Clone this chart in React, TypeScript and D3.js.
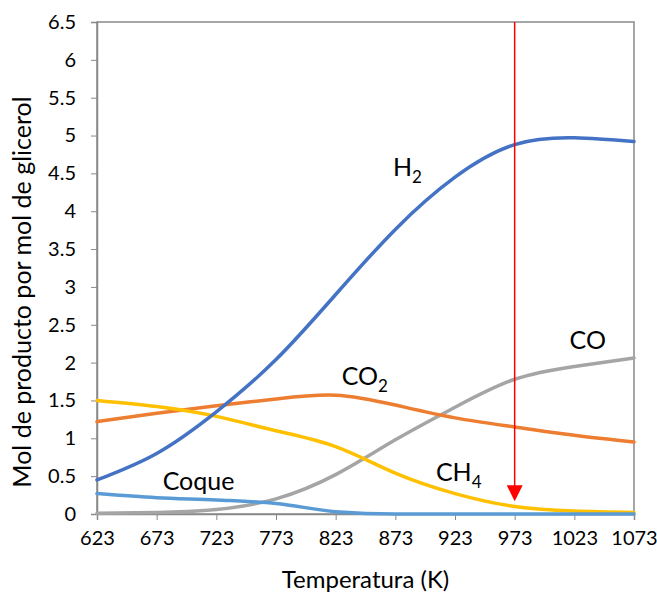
import React, { useRef, useEffect } from 'react';
import * as d3 from 'd3';

const temps = [623, 673, 723, 773, 823, 873, 923, 973, 1023, 1073];
const h2 = [0.45, 0.8, 1.35, 2.04, 2.9, 3.76, 4.45, 4.88, 4.97, 4.92];
const co2 = [1.22, 1.33, 1.43, 1.52, 1.57, 1.44, 1.27, 1.15, 1.04, 0.95];
const co = [0.01, 0.02, 0.06, 0.2, 0.52, 0.98, 1.41, 1.78, 1.95, 2.06];
const ch4 = [1.5, 1.42, 1.29, 1.1, 0.89, 0.54, 0.27, 0.1, 0.04, 0.02];
const coque = [0.27, 0.215, 0.185, 0.14, 0.03, 0, 0, 0, 0, 0];
const yTicks = [0, 0.5, 1, 1.5, 2, 2.5, 3, 3.5, 4, 4.5, 5, 5.5, 6, 6.5];
const markerTemp = 973;
const markerTip = 0.17;

const series = [
  { name: 'CO', values: co, color: '#A5A5A5' },
  { name: 'CO2', values: co2, color: '#ED7D31' },
  { name: 'CH4', values: ch4, color: '#FFC000' },
  { name: 'H2', values: h2, color: '#4472C4' },
  { name: 'Coque', values: coque, color: '#5B9BD5' },
];

// label positions in data units
const labels = [
  { main: 'H', sub: '2', t: 871, v: 4.47 },
  { main: 'CO', sub: '2', t: 828, v: 1.7 },
  { main: 'CO', sub: '', t: 1019, v: 2.18 },
  { main: 'CH', sub: '4', t: 907, v: 0.44 },
  { main: 'Coque', sub: '', t: 678, v: 0.32 },
];

const App = () => {
  const svgRef = useRef<SVGSVGElement>(null);

  useEffect(() => {
    const width = 657;
    const height = 595;
    const margin = { top: 22, right: 23, bottom: 81, left: 97 };
    const innerWidth = width - margin.left - margin.right;
    const innerHeight = height - margin.top - margin.bottom;
    const font = 'Lato, "Open Sans", sans-serif';

    const svg = d3.select(svgRef.current);
    svg.selectAll('*').remove();

    const x = d3.scaleLinear().domain([623, 1073]).range([0, innerWidth]);
    const y = d3.scaleLinear().domain([0, 6.5]).range([innerHeight, 0]);

    const g = svg.append('g').attr('transform', `translate(${margin.left},${margin.top})`);

    // plot border
    g.append('rect')
      .attr('width', innerWidth)
      .attr('height', innerHeight)
      .attr('fill', 'none')
      .attr('stroke', '#898989')
      .attr('stroke-width', 1.5);

    // y axis
    const yAxis = g.append('g')
      .call(d3.axisLeft(y).tickValues(yTicks).tickFormat(d3.format('')).tickSize(6).tickPadding(15));
    yAxis.select('.domain').attr('stroke', '#898989').attr('stroke-width', 1.5);
    yAxis.selectAll('line').attr('stroke', '#898989');
    yAxis.selectAll('text').attr('font-size', 20).attr('font-family', font).attr('fill', '#000');

    // x axis
    const xAxis = g.append('g')
      .attr('transform', `translate(0,${innerHeight})`)
      .call(d3.axisBottom(x).tickValues(temps).tickFormat(d3.format('d')).tickSize(6).tickPadding(11));
    xAxis.select('.domain').attr('stroke', '#898989').attr('stroke-width', 1.5);
    xAxis.selectAll('line').attr('stroke', '#898989');
    xAxis.selectAll('text').attr('font-size', 20).attr('font-family', font).attr('fill', '#000');

    const smooth = d3.line<number>()
      .x((_, i) => x(temps[i]))
      .y(d => y(Math.max(0, d)))
      .curve(d3.curveNatural);
    const flat = d3.line<number>()
      .x((_, i) => x(temps[i]))
      .y(d => y(d))
      .curve(d3.curveMonotoneX);

    g.append('g')
      .selectAll('path')
      .data(series)
      .join('path')
      .attr('d', d => (d.name === 'Coque' ? flat(d.values) : smooth(d.values)))
      .attr('fill', 'none')
      .attr('stroke', d => d.color)
      .attr('stroke-width', 3.5)
      .attr('stroke-linecap', 'round');

    // red arrow
    g.append('line')
      .attr('x1', x(markerTemp))
      .attr('x2', x(markerTemp))
      .attr('y1', 0)
      .attr('y2', y(markerTip) - 12)
      .attr('stroke', '#FF0000')
      .attr('stroke-width', 1.5);
    g.append('path')
      .attr('d', `M${x(markerTemp) - 8},${y(markerTip) - 16} L${x(markerTemp) + 8},${y(markerTip) - 16} L${x(markerTemp)},${y(markerTip)} Z`)
      .attr('fill', '#FF0000');

    // series labels
    labels.forEach(l => {
      const t = g.append('text')
        .attr('x', x(l.t))
        .attr('y', y(l.v))
        .attr('font-size', 25)
        .attr('font-family', font)
        .attr('fill', '#000');
      t.append('tspan').text(l.main);
      if (l.sub) {
        t.append('tspan').attr('dy', 7).attr('font-size', 17).text(l.sub);
      }
    });

    // axis titles
    svg.append('text')
      .attr('x', margin.left + innerWidth / 2)
      .attr('y', 588)
      .attr('text-anchor', 'middle')
      .attr('font-size', 24)
      .attr('font-family', font)
      .attr('fill', '#000')
      .text('Temperatura (K)');

    svg.append('text')
      .attr('transform', `translate(31,292) rotate(-90)`)
      .attr('text-anchor', 'middle')
      .attr('font-size', 25)
      .attr('font-family', font)
      .attr('fill', '#000')
      .text('Mol de producto por mol de glicerol');
  }, []);

  return (
    <svg
      ref={svgRef}
      width={657}
      height={595}
      style={{ position: 'absolute', left: 0, top: 0, background: '#fff' }}
    />
  );
};

export default App;
